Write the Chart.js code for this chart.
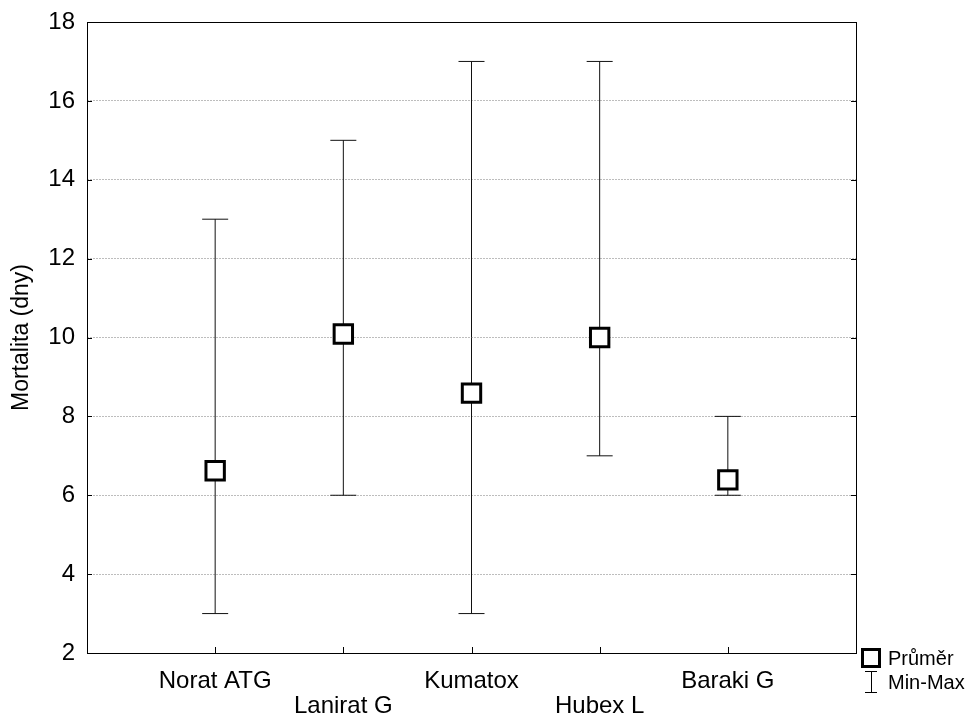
<!DOCTYPE html>
<html>
<head>
<meta charset="utf-8">
<title>Mortalita</title>
<script src="https://cdn.jsdelivr.net/npm/chart.js@4/dist/chart.umd.min.js"></script>
<style>
  html, body { margin: 0; padding: 0; background: #fff; }
  #wrap { width: 968px; height: 719px; }
</style>
</head>
<body>
<div id="wrap"><canvas id="c" width="968" height="719"></canvas></div>
<script>
// data
const categories = ["Norat ATG", "Lanirat G", "Kumatox", "Hubex L", "Baraki G"];
const means = [6.62, 10.09, 8.59, 10.0, 6.39];
const mins = [3, 6, 3, 7, 6];
const maxs = [13, 15, 17, 17, 8];
const yTicks = [2, 4, 6, 8, 10, 12, 14, 16, 18];

const FONT = "'Liberation Sans', Arial, sans-serif";

// mean markers
const meanSet = {
    type: "scatter",
    label: "Průměr",
    order: 0,
    data: means.map((m, i) => ({ x: i + 1, y: m })),
    pointStyle: "rect",
    pointRadius: 13,
    pointHoverRadius: 13,
    borderColor: "#000",
    backgroundColor: "#fff",
    borderWidth: 3
};

// whiskers min-max, one dataset per category, caps drawn as 'line' points
const whiskerSets = categories.map((c, i) => ({
    type: "line",
    label: "Min-Max",
    order: 1,
    data: [{ x: i + 1, y: mins[i] }, { x: i + 1, y: maxs[i] }],
    borderColor: "#111",
    borderWidth: 1,
    pointStyle: "line",
    pointRadius: 13,
    pointHoverRadius: 13,
    pointBorderColor: "#111",
    pointBorderWidth: 1,
    fill: false
}));

// frame, inward ticks and legend
const framePlugin = {
    id: "frame",
    afterDraw(chart) {
        const { ctx, chartArea: a, scales } = chart;
        ctx.save();
        ctx.strokeStyle = "#000";
        ctx.lineWidth = 1;
        ctx.strokeRect(Math.round(a.left) + 0.5, Math.round(a.top) + 0.5,
            Math.round(a.right - a.left), Math.round(a.bottom - a.top));

        ctx.beginPath();
        categories.forEach((c, i) => {
            const x = Math.round(scales.x.getPixelForValue(i + 1)) + 0.5;
            ctx.moveTo(x, a.bottom);
            ctx.lineTo(x, a.bottom - 6);
        });
        yTicks.forEach(v => {
            const y = Math.round(scales.y.getPixelForValue(v)) + 0.5;
            ctx.moveTo(a.left, y);
            ctx.lineTo(a.left + 5, y);
            ctx.moveTo(a.right, y);
            ctx.lineTo(a.right - 5, y);
        });
        ctx.stroke();

        // legend
        const lx = a.right + 15;
        const ly1 = a.bottom + 5;
        const ly2 = a.bottom + 29;
        ctx.lineWidth = 3;
        ctx.fillStyle = "#fff";
        ctx.fillRect(lx - 8.5, ly1 - 8.5, 17, 17);
        ctx.strokeRect(lx - 8.5, ly1 - 8.5, 17, 17);
        ctx.lineWidth = 1;
        ctx.beginPath();
        ctx.moveTo(lx - 6, ly2 - 10.5); ctx.lineTo(lx + 6, ly2 - 10.5);
        ctx.moveTo(lx + 0.5, ly2 - 10.5); ctx.lineTo(lx + 0.5, ly2 + 10.5);
        ctx.moveTo(lx - 6, ly2 + 10.5); ctx.lineTo(lx + 6, ly2 + 10.5);
        ctx.stroke();
        ctx.fillStyle = "#000";
        ctx.font = "20px " + FONT;
        ctx.textBaseline = "middle";
        ctx.textAlign = "left";
        ctx.fillText("Průměr", lx + 17, ly1 + 1);
        ctx.fillText("Min-Max", lx + 17, ly2 + 1);
        ctx.restore();
    }
};

new Chart(document.getElementById("c"), {
    data: { datasets: [meanSet, ...whiskerSets] },
    options: {
        responsive: false,
        animation: false,
        events: [],
        layout: { padding: { left: 0, top: 22, right: 112, bottom: 0 } },
        plugins: {
            legend: { display: false },
            tooltip: { enabled: false }
        },
        scales: {
            x: {
                type: "linear",
                min: 0,
                max: 6,
                afterBuildTicks: s => { s.ticks = categories.map((c, i) => ({ value: i + 1 })); },
                afterFit: s => { s.height = 66; s.paddingLeft = 0; s.paddingRight = 0; },
                grid: { display: false, drawTicks: false },
                border: { display: false },
                ticks: {
                    padding: 16,
                    autoSkip: false,
                    maxRotation: 0,
                    color: "#000",
                    font: { family: FONT, size: 24, lineHeight: 1.05 },
                    callback: v => {
                        const i = Math.round(v) - 1;
                        return i % 2 === 0 ? categories[i] : ["", categories[i]];
                    }
                }
            },
            y: {
                type: "linear",
                min: 2,
                max: 18,
                afterBuildTicks: s => { s.ticks = yTicks.map(v => ({ value: v })); },
                afterFit: s => { s.width = 87; s.paddingTop = 0; s.paddingBottom = 0; },
                grid: {
                    drawTicks: false,
                    color: ctx => (ctx.tick && (ctx.tick.value === 2 || ctx.tick.value === 18)) ? "rgba(0,0,0,0)" : "#bdbdbd",
                    lineWidth: 1
                },
                border: { display: false, dash: [2, 1] },
                ticks: {
                    padding: 12,
                    color: "#000",
                    font: { family: FONT, size: 24 }
                },
                title: {
                    display: true,
                    text: "Mortalita (dny)",
                    color: "#000",
                    font: { family: FONT, size: 23 },
                    padding: { top: 8, bottom: 0 }
                }
            }
        }
    },
    plugins: [framePlugin]
});
</script>
</body>
</html>
